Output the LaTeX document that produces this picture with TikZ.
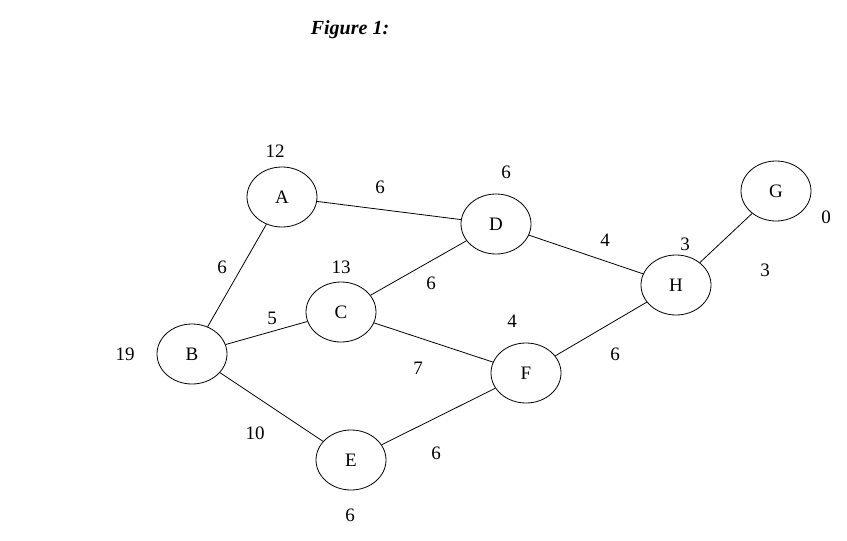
\documentclass[tikz,border=0pt]{standalone}
\usepackage{fontspec}
\setmainfont{Liberation Serif}
\usetikzlibrary{shapes.geometric}
\begin{document}
\begin{tikzpicture}[x=1pt,y=-1pt,
  vert/.style={draw,ellipse,minimum width=70pt,minimum height=60pt,inner sep=0pt,font=\fontsize{19}{22}\selectfont},
  lbl/.style={font=\fontsize{19}{22}\selectfont,inner sep=0pt},
  every path/.style={line width=0.8pt}]
\useasboundingbox (0,0) rectangle (847,541);
\node[lbl,font=\fontsize{20}{24}\selectfont\bfseries\itshape] (title) at (350,30) {Figure 1:};
\node[vert] (A) at (282,197) {A};
\node[vert] (D) at (496,224) {D};
\node[vert] (G) at (776,191) {G};
\node[vert] (H) at (676,285) {H};
\node[vert] (C) at (341,312) {C};
\node[vert] (B) at (192,354) {B};
\node[vert] (F) at (526,373) {F};
\node[vert] (E) at (351,460) {E};
\draw (A) -- (D); \draw (A) -- (B); \draw (D) -- (H); \draw (D) -- (C);
\draw (G) -- (H); \draw (B) -- (C); \draw (B) -- (E); \draw (C) -- (F);
\draw (F) -- (H); \draw (E) -- (F);
\node[lbl] (l1) at (275,151) {12};
\node[lbl] (l2) at (506,172) {6};
\node[lbl] (l3) at (826,217) {0};
\node[lbl] (l4) at (685,244) {3};
\node[lbl] (l5) at (765,270) {3};
\node[lbl] (l6) at (341,267) {13};
\node[lbl] (l7) at (222,267) {6};
\node[lbl] (l8) at (380,187) {6};
\node[lbl] (l9) at (605,240) {4};
\node[lbl] (l10) at (431,283) {6};
\node[lbl] (l11) at (272,318) {5};
\node[lbl] (l12) at (512,321) {4};
\node[lbl] (l13) at (125,354) {19};
\node[lbl] (l14) at (418,368) {7};
\node[lbl] (l15) at (615,354) {6};
\node[lbl] (l16) at (255,433) {10};
\node[lbl] (l17) at (436,453) {6};
\node[lbl] (l18) at (350,515) {6};
\end{tikzpicture}
\end{document}
